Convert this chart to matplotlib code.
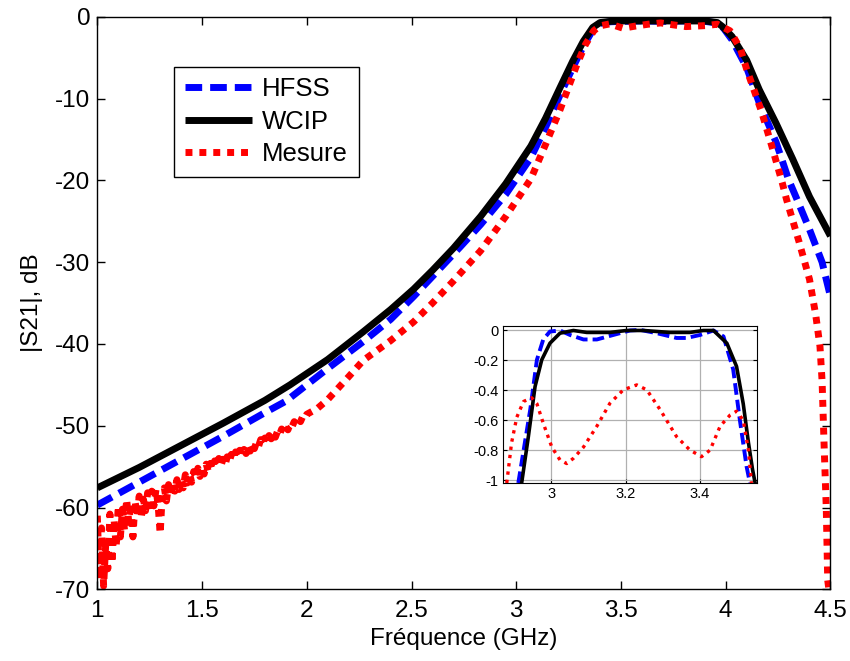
import numpy as np
import matplotlib
matplotlib.use("Agg")
import matplotlib.pyplot as plt

plt.rcParams['font.family'] = ['Liberation Sans', 'DejaVu Sans']
plt.rcParams['axes.unicode_minus'] = False

# ---------------- main data ----------------
wcip_f = [1.00, 1.20, 1.40, 1.60, 1.80, 1.92, 2.10, 2.27, 2.40, 2.51, 2.60, 2.70, 2.83, 2.95,
          3.07, 3.14, 3.21, 3.27, 3.32, 3.365, 3.40, 3.45, 3.50, 3.60, 3.70, 3.80, 3.90, 3.96,
          3.985, 4.03, 4.10, 4.16, 4.24, 4.32, 4.40, 4.50]
wcip_db = [-57.6, -55.1, -52.4, -49.7, -46.9, -45.0, -41.9, -38.5, -35.8, -33.3, -31.0, -28.3,
           -24.4, -20.4, -15.8, -12.4, -8.6, -5.4, -3.0, -1.3, -0.7, -0.55, -0.5, -0.5, -0.5,
           -0.5, -0.5, -0.7, -1.2, -2.4, -5.3, -8.9, -13.0, -17.4, -22.0, -26.8]

hfss_f = [1.00, 1.20, 1.40, 1.60, 1.80, 1.90, 2.10, 2.27, 2.40, 2.51, 2.62, 2.73, 2.83, 2.95,
          3.07, 3.14, 3.21, 3.27, 3.32, 3.37, 3.40, 3.45, 3.50, 3.60, 3.70, 3.80, 3.90, 3.96,
          3.99, 4.03, 4.10, 4.16, 4.24, 4.30, 4.34, 4.40, 4.46, 4.50]
hfss_db = [-59.7, -56.9, -54.1, -51.3, -48.4, -47.0, -43.0, -39.7, -37.0, -34.2, -31.2, -28.2,
           -25.4, -21.7, -17.2, -13.5, -9.5, -6.2, -3.6, -1.4, -0.8, -0.6, -0.55, -0.5, -0.55,
           -0.5, -0.55, -0.75, -1.4, -2.8, -6.2, -10.5, -15.3, -19.9, -22.3, -26.0, -30.0, -34.2]

# measured data: noisy low band (1.00 .. 2.00 GHz, step 0.01 GHz)
mes_f_lo = np.linspace(1.0, 2.0, 101)
mes_db_lo = [-61.0, -68.8, -62.5, -69.6, -64.5, -67.5, -60.8, -66.8, -61.5, -64.8,
             -59.8, -63.6, -60.2, -62.8, -59.0, -61.8, -59.5, -63.6, -59.2, -61.0,
             -58.6, -61.2, -59.0, -60.4, -58.2, -60.6, -58.0, -59.8, -57.8, -59.6,
             -63.2, -58.4, -57.6, -59.2, -57.2, -58.4, -56.9, -58.0, -56.6, -57.8,
             -56.5, -57.6, -56.0, -57.0, -55.8, -56.9, -55.6, -56.4, -55.2, -56.2,
             -55.0, -55.9, -54.7, -55.6, -54.6, -55.3, -54.3, -55.0, -54.0, -54.9,
             -54.1, -54.8, -53.8, -54.4, -53.5, -54.1, -53.2, -53.9, -53.0, -53.6,
             -52.9, -53.4, -52.5, -53.1, -52.3, -52.8, -52.0, -52.5, -51.7, -52.2,
             -51.5, -52.0, -51.2, -51.6, -50.9, -51.4, -50.7, -51.1, -50.4, -50.8,
             -50.1, -50.5, -49.8, -50.1, -49.5, -49.8, -49.2, -49.5, -48.9, -49.1,
             -48.6]
mes_f_hi = [2.05, 2.10, 2.20, 2.27, 2.40, 2.51, 2.60, 2.70, 2.83, 2.95, 3.07, 3.14, 3.21,
            3.29, 3.33, 3.37, 3.40, 3.446, 3.51, 3.566, 3.63, 3.69, 3.75, 3.81, 3.91, 3.96,
            4.02, 4.07, 4.10, 4.17, 4.22, 4.27, 4.29, 4.35, 4.40, 4.43, 4.45, 4.46, 4.47,
            4.48, 4.487, 4.495]
mes_db_hi = [-47.9, -46.8, -44.0, -42.0, -39.6, -37.3, -35.0, -32.3, -28.6, -24.4, -19.8,
             -15.6, -11.3, -5.8, -3.4, -1.7, -1.1, -0.86, -1.39, -1.14, -0.9, -0.74, -0.98,
             -1.19, -1.06, -0.9, -1.7, -3.9, -6.4, -11.5, -15.8, -20.3, -22.3, -27.5, -32.1,
             -36.5, -40.3, -44.5, -52.6, -60.0, -68.9, -70.5]

# ---------------- inset data ----------------
in_hfss_f = [2.912, 2.944, 2.962, 2.979, 2.997, 3.024, 3.051, 3.087, 3.123, 3.167, 3.212, 3.239,
             3.284, 3.337, 3.364, 3.400, 3.436, 3.463, 3.489, 3.507, 3.525, 3.534]
in_hfss_db = [-1.02, -0.53, -0.196, -0.06, -0.007, 0.0, -0.03, -0.06, -0.06, -0.03, 0.0, 0.004,
              -0.018, -0.05, -0.05, -0.03, 0.0, -0.04, -0.26, -0.60, -0.91, -1.02]
in_wcip_f = [2.921, 2.939, 2.957, 2.975, 2.997, 3.024, 3.060, 3.096, 3.158, 3.203, 3.248, 3.319,
             3.373, 3.409, 3.436, 3.472, 3.498, 3.516, 3.530, 3.541, 3.548]
in_wcip_db = [-1.02, -0.71, -0.375, -0.196, -0.085, -0.018, 0.0, -0.013, -0.013, 0.0, 0.0, -0.013,
              -0.013, 0.0, 0.0, -0.085, -0.24, -0.49, -0.75, -0.93, -1.02]
in_mes_f = [2.881, 2.894, 2.908, 2.926, 2.948, 2.962, 2.979, 3.002, 3.024, 3.042, 3.060, 3.087,
            3.123, 3.158, 3.194, 3.230, 3.257, 3.293, 3.337, 3.373, 3.404, 3.427, 3.454, 3.481,
            3.498, 3.516, 3.530, 3.538]
in_mes_db = [-1.02, -0.75, -0.58, -0.475, -0.45, -0.49, -0.62, -0.78, -0.866, -0.89, -0.855,
             -0.78, -0.64, -0.487, -0.397, -0.364, -0.397, -0.53, -0.71, -0.80, -0.844, -0.80,
             -0.64, -0.565, -0.54, -0.60, -0.80, -1.02]

main_xticks = [1, 1.5, 2, 2.5, 3, 3.5, 4, 4.5]
main_xticklabels = ['1', '1.5', '2', '2.5', '3', '3.5', '4', '4.5']
main_yticks = [0, -10, -20, -30, -40, -50, -60, -70]
inset_xticks = [3.0, 3.2, 3.4]
inset_yticks = [0, -0.2, -0.4, -0.6, -0.8, -1.0]
inset_yticklabels = ['0', '-0.2', '-0.4', '-0.6', '-0.8', '-1']

fig = plt.figure(figsize=(8.5, 6.61), dpi=100)
ax = fig.add_axes([0.1145, 0.1085, 0.8625, 0.866])

LW = 5.0
ax.plot(hfss_f, hfss_db, color='#0000ff', lw=LW, linestyle=(0, (2.4, 1.15)), label='HFSS')
ax.plot(wcip_f, wcip_db, color='black', lw=LW, solid_capstyle='butt', label='WCIP')
mes_f = list(mes_f_lo) + mes_f_hi
mes_db = mes_db_lo + mes_db_hi
ax.plot(mes_f, mes_db, color='#ff0000', lw=LW, linestyle=(0, (1.0, 1.0)), label='Mesure')

FS = 17.5
ax.set_xlim(1, 4.5)
ax.set_ylim(-70, 0)
ax.set_xticks(main_xticks)
ax.set_xticklabels(main_xticklabels)
ax.set_yticks(main_yticks)
ax.tick_params(direction='in', length=6, width=1, top=True, right=True, labelsize=FS)
ax.tick_params(axis='x', pad=8)
ax.tick_params(axis='y', pad=5)
for s in ax.spines.values():
    s.set_linewidth(1.0)
ax.set_xlabel('Fréquence (GHz)', fontsize=FS, labelpad=4)
ax.set_ylabel('|S21|, dB', fontsize=FS, labelpad=9)

leg = ax.legend(loc='upper left', bbox_to_anchor=(0.105, 0.913), fontsize=18.5,
                handlelength=2.6, handletextpad=0.4, labelspacing=0.32, borderpad=0.42,
                borderaxespad=0, fancybox=False, framealpha=1, edgecolor='black')
leg.get_frame().set_linewidth(1.0)

# inset
ins = fig.add_axes([0.5918, 0.2693, 0.2988, 0.2375])
ins.grid(True, color='#b0b0b0', lw=0.9)
ins.set_axisbelow(True)
ins.plot(in_hfss_f, in_hfss_db, color='#0000ff', lw=2.8, linestyle=(0, (3.0, 1.3)))
ins.plot(in_wcip_f, in_wcip_db, color='black', lw=2.6)
ins.plot(in_mes_f, in_mes_db, color='#ff0000', lw=2.4, linestyle=(0, (1.0, 1.5)))
ins.set_xlim(2.871, 3.553)
ins.set_ylim(-1.02, 0.03)
ins.set_xticks(inset_xticks)
ins.set_xticklabels(['3', '3.2', '3.4'])
ins.set_yticks(inset_yticks)
ins.set_yticklabels(inset_yticklabels)
ins.tick_params(direction='in', length=3, width=0.8, top=True, right=True, labelsize=10.5, pad=3)

fig.savefig('out.png', dpi=100)
